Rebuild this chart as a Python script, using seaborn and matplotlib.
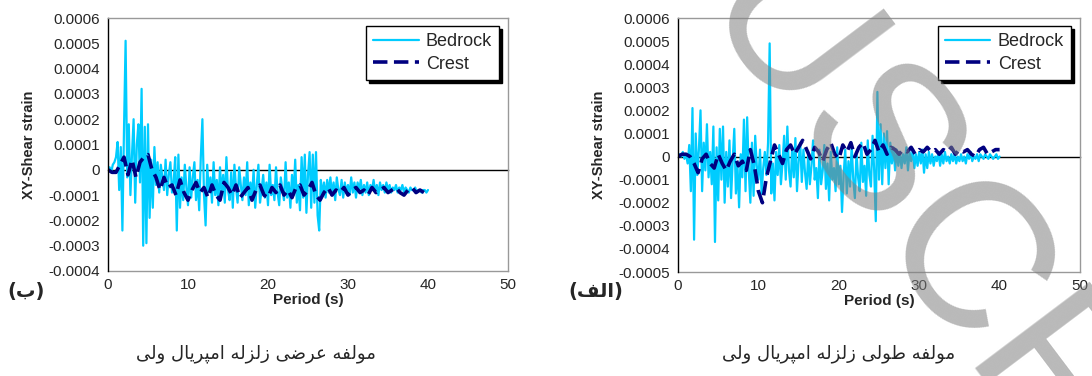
import numpy as np
import pandas as pd
import matplotlib
matplotlib.use('Agg')
import matplotlib.pyplot as plt
import seaborn as sns

# ---- data (strain values in units of 1e-4) ----
# transverse component (panel b), bedrock sampled every 0.2 s
bed_b = [0, 0.1, -0.1, 0.2, 0.3, 0.5,
         1.1, -0.8, 0.9, -2.4, 1.6,
         5.1, -0.3, 1.8, -1.0, 0.6,
         2.0, -1.3, 1.0, 1.8, -0.5,
         3.2, -3.0, 1.7, -2.9, 1.8,
         -1.9, 0.4, -1.5, 0.9, -0.6,
         0.3, -0.9, 0.2, -0.3, -0.8,
         0.4, -1.0, -0.2, 0.3, -0.9,
         -0.5, 0.5, -2.4, 0.6, -1.5,
         -0.3, -1.2, 0.2, -0.7, -1.4,
         0.1, -1.1, -0.3, 0.3, -1.2,
         -0.4, -1.6, 0.5, 2.0, -1.0,
         -2.2, 0.2, -0.9, -0.3, -1.3,
         0.3, -1.0, -0.4, -1.4, 0.1,
         -0.9, -0.2, -1.3, 0.5, -0.8,
         -1.2, -0.1, -1.5, 0.2, -0.7,
         -1.3, 0.1, -0.6, -1.2, -0.3,
         -1.0, 0.3, -1.4, -0.5, -1.1,
         0.0, -1.5, -0.6, 0.2, -1.3,
         -0.8, -0.2, -1.1, -0.5, -1.4,
         0.2, -1.0, -0.6, -1.2, 0.1,
         -0.9, -1.4, -0.3, -0.8, -1.2,
         0.3, -1.1, -0.5, -1.5, -0.2,
         -1.0, 0.4, -1.3, -0.6, -1.6,
         0.5, -1.1, 0.6, -1.7, -0.2,
         0.7, -1.5, 0.6, -1.3, 0.7,
         -1.8, -2.4, -0.4, -1.0, -0.5,
         -1.1, -0.4, -0.9, -0.3, -1.0,
         -0.5, -1.2, -0.3, -0.8, -1.0,
         -0.4, -1.1, -0.5, -0.9, -0.6,
         -1.0, -0.3, -0.9, -0.5, -1.1,
         -0.5, -0.8, -0.4, -1.0, -0.6,
         -0.9, -0.5, -1.0, -0.6, -0.8,
         -0.4, -0.9, -0.6, -1.0, -0.5,
         -0.8, -0.6, -0.9, -0.5, -0.8,
         -0.6, -0.9, -0.7, -0.8, -0.6,
         -0.9, -0.7, -0.8, -0.6, -0.9,
         -0.7, -0.8, -0.9, -0.7, -0.8,
         -0.8, -0.7, -0.9, -0.8, -0.8,
         -0.9, -0.8, -0.8, -0.9, -0.8]
# crest sampled every 0.5 s
crest_b = [0, -0.1, -0.1, 0.2, 0.5, -0.2, 0.4, -0.3, 0.3, 0.5,
           0.6, 0.0, -0.3, -0.8, -0.3, -0.7, -0.6, -1.0, -0.4, -0.9,
           -1.2, -0.8, -0.5, -0.9, -0.7, -1.1, -0.6, -1.0, -1.2, -0.5,
           -0.7, -1.0, -0.6, -1.1, -0.9, -0.7, -1.2, -0.8, -0.6, -1.0,
           -1.1, -0.7, -0.9, -0.6, -1.0, -0.8, -1.1, -0.7, -0.6, -1.0,
           -0.8, -0.5, -1.0, -1.2, -0.9, -0.7, -1.0, -0.8, -0.9, -0.7,
           -1.0, -0.8, -0.7, -0.9, -0.8, -1.0, -0.7, -0.9, -0.8, -0.7,
           -0.9, -0.8, -0.7, -0.9, -1.0, -0.8, -0.7, -0.9, -0.8, -0.9, -0.8]

# longitudinal component (panel alef)
bed_a = [0, 0.1, 0.0, 0.2, -0.1, 0.1,
         -0.3, 0.5, -1.5, 2.1, -3.6,
         1.0, -0.8, 0.3, 2.0, -1.5,
         0.6, -0.6, 1.4, -0.9, 0.2,
         -1.2, 1.3, -3.7, 0.4, -1.9,
         1.2, -1.0, 1.3, -2.0, 0.2,
         -1.3, 0.7, -1.8, -0.2, 1.2,
         -1.6, -0.4, -2.2, 0.1, -0.9,
         1.6, -1.5, 1.7, -0.6, -2.0,
         0.6, -1.7, 0.9, -0.4, -1.0,
         0.3, -1.6, -0.5, 0.2, -0.8,
         0.6, 4.9, -1.6, -0.3, -1.9,
         0.2, -0.8, 0.5, -1.2, -0.3,
         0.9, -1.0, 1.3, -0.6, -1.3,
         0.4, -0.9, 0.8, -1.5, -0.2,
         0.6, -1.1, 0.3, -0.7, -1.4,
         0.2, -1.2, -0.4, 0.7, -1.0,
         -0.5, -1.8, 0.3, -1.2, -0.6,
         0.5, -1.4, -0.3, -1.9, 0.2,
         -1.0, -0.5, -1.5, 0.4, -1.2,
         -0.4, -2.4, -0.8, 0.3, -1.6,
         -0.2, -1.3, 0.5, -1.0, -1.8,
         0.2, -0.9, -1.5, 0.6, -1.1,
         -0.4, -1.7, 0.7, -0.8, -1.3,
         0.9, -0.6, -2.8, 2.8, -1.0,
         1.4, -1.2, 1.0, -0.5, 1.1,
         -1.2, 0.6, -0.3, 0.4, -0.6,
         0.3, -0.4, 0.2, -0.5, 0.1,
         -0.3, 0.4, -0.6, 0.2, -0.2,
         0.3, -0.5, 0.1, -0.4, 0.2,
         -0.3, 0.3, -0.7, 0.1, -0.5,
         0.2, -0.3, 0.1, -0.4, 0.0,
         -0.2, 0.2, -0.4, 0.1, -0.3,
         0.2, -0.2, 0.0, -0.3, 0.1,
         -0.2, 0.1, -0.3, 0.0, -0.2,
         0.1, -0.2, 0.0, -0.3, 0.1,
         -0.1, 0.2, -0.2, 0.0, -0.1,
         0.1, -0.2, 0.1, 0.0, -0.1,
         0.1, 0.0, -0.1, 0.1, 0.0,
         -0.1, 0.0, 0.1, -0.1, 0.0]
crest_a = [0, 0.1, 0.1, 0.0, -0.3, -0.7, -0.1, 0.1, -0.3, -0.5,
           0.1, -0.3, -0.6, -0.2, 0.1, -0.4, -0.2, -0.6, 0.3, -0.4,
           -1.5, -2.0, -0.9, -0.2, 0.5, 0.1, -0.3, 0.3, 0.5, 0.1,
           0.4, 0.7, 0.3, -0.1, 0.4, 0.2, -0.2, 0.3, 0.6, 0.1,
           -0.1, 0.5, 0.2, 0.6, 0.0, 0.4, 0.6, 0.1, 0.3, 0.7,
           0.2, 0.5, 0.1, 0.4, 0.3, 0.1, 0.3, 0.2, 0.4, 0.1,
           0.3, 0.2, 0.4, 0.2, 0.3, 0.1, 0.3, 0.2, 0.4, 0.1,
           0.3, 0.2, 0.3, 0.1, 0.0, 0.3, 0.4, 0.1, 0.2, 0.3, 0.3]

xticks = [0, 10, 20, 30, 40, 50]
yticks_b = [-0.0004, -0.0003, -0.0002, -0.0001, 0, 0.0001, 0.0002, 0.0003, 0.0004, 0.0005, 0.0006]
ylabels_b = ['-0.0004', '-0.0003', '-0.0002', '-0.0001', '0', '0.0001', '0.0002',
             '0.0003', '0.0004', '0.0005', '0.0006']
yticks_a = [-0.0005] + yticks_b
ylabels_a = ['-0.0005'] + ylabels_b

caption_b = 'مولفه عرضی زلزله امپریال ولی'
caption_a = 'مولفه طولی زلزله امپریال ولی'
tag_b = '(ب)'
tag_a = '(الف)'

# ---- simple arabic shaping (matplotlib has no shaping / bidi) ----
FORMS = {
    'ا': ('\uFE8D', '\uFE8E', None, None),
    'ب': ('\uFE8F', '\uFE90', '\uFE91', '\uFE92'),
    'پ': ('\uFB56', '\uFB57', '\uFB58', '\uFB59'),
    'ر': ('\uFEAD', '\uFEAE', None, None),
    'ز': ('\uFEAF', '\uFEB0', None, None),
    'ض': ('\uFEBD', '\uFEBE', '\uFEBF', '\uFEC0'),
    'ط': ('\uFEC1', '\uFEC2', '\uFEC3', '\uFEC4'),
    'ع': ('\uFEC9', '\uFECA', '\uFECB', '\uFECC'),
    'ف': ('\uFED1', '\uFED2', '\uFED3', '\uFED4'),
    'ل': ('\uFEDD', '\uFEDE', '\uFEDF', '\uFEE0'),
    'م': ('\uFEE1', '\uFEE2', '\uFEE3', '\uFEE4'),
    'ه': ('\uFEE9', '\uFEEA', '\uFEEB', '\uFEEC'),
    'و': ('\uFEED', '\uFEEE', None, None),
    'ی': ('\uFBFC', '\uFBFD', '\uFBFE', '\uFBFF'),
}


def shape(text):
    out = []
    for i, ch in enumerate(text):
        if ch not in FORMS:
            out.append(ch)
            continue
        prev = text[i - 1] if i > 0 else ''
        nxt = text[i + 1] if i + 1 < len(text) else ''
        j_prev = prev in FORMS and FORMS[prev][2] is not None
        j_next = nxt in FORMS and FORMS[ch][2] is not None
        iso, fin, ini, med = FORMS[ch]
        if j_prev and j_next:
            out.append(med)
        elif j_prev:
            out.append(fin)
        elif j_next:
            out.append(ini)
        else:
            out.append(iso)
    vis = ''.join(reversed(out))
    return vis.translate(str.maketrans('()', ')('))


sns.set_style('white')
plt.rcParams['font.family'] = ['Liberation Sans', 'DejaVu Sans']

CYAN = '#00CCFF'
NAVY = '#000080'
GREY = '#999999'

fig = plt.figure(figsize=(10.92, 3.76), dpi=100)


def panel(rect, bed, crest, yticks, ylabels, ylim):
    ax = fig.add_axes(rect)
    df_bed = pd.DataFrame({'t': np.linspace(0, 40, len(bed)), 'v': np.array(bed) * 1e-4})
    df_crest = pd.DataFrame({'t': np.linspace(0, 40, len(crest)), 'v': np.array(crest) * 1e-4})
    sns.lineplot(data=df_bed, x='t', y='v', ax=ax, color=CYAN, lw=1.6, label='Bedrock')
    sns.lineplot(data=df_crest, x='t', y='v', ax=ax, color=NAVY, lw=2.6,
                 linestyle=(0, (4, 1.8)), label='Crest')
    ax.set_xlim(0, 50)
    ax.set_ylim(*ylim)

    # frame: grey box, black y-axis, black x-axis crossing at zero
    for s in ['top', 'right']:
        ax.spines[s].set_color(GREY)
        ax.spines[s].set_linewidth(1)
    ax.spines['left'].set_color('black')
    ax.spines['left'].set_linewidth(1)
    ax.spines['bottom'].set_position(('data', 0))
    ax.spines['bottom'].set_color('black')
    ax.spines['bottom'].set_linewidth(1)
    ax.spines['bottom'].set_zorder(1)

    ax.set_xticks(xticks)
    ax.tick_params(axis='x', direction='out', length=4, width=1, color='black',
                   labelbottom=False)
    ax.set_yticks(yticks)
    ax.set_yticklabels(ylabels)
    ax.tick_params(axis='y', direction='out', length=4, width=1, color='black',
                   labelsize=11, pad=2)
    ax.set_xlabel('')
    ax.set_ylabel('XY-Shear strain', fontsize=10.5, fontweight='bold', labelpad=9)

    sec = ax.secondary_xaxis('bottom')
    sec.set_xticks(xticks)
    sec.tick_params(length=0, labelsize=11, pad=5)
    sec.spines['bottom'].set_color(GREY)
    sec.spines['bottom'].set_linewidth(1)
    sec.set_xlabel('Period (s)', fontsize=11, fontweight='bold', labelpad=1)

    leg = ax.legend(loc='upper right', bbox_to_anchor=(0.978, 0.968), borderaxespad=0,
                    fontsize=13, fancybox=False, shadow={'color': 'black', 'alpha': 1},
                    handlelength=2.5, handletextpad=0.4, borderpad=0.4,
                    labelspacing=0.3, edgecolor='black', framealpha=1)
    leg.get_frame().set_linewidth(1)
    return ax


ax_b = panel([108 / 1092, 1 - 271 / 376, 400 / 1092, 253 / 376], bed_b, crest_b,
             yticks_b, ylabels_b, (-0.0004, 0.0006))
ax_a = panel([678 / 1092, 1 - 272 / 376, 402 / 1092, 254 / 376], bed_a, crest_a,
             yticks_a, ylabels_a, (-0.0005, 0.0006))

# panel tags and captions
fig.text(26 / 1092, 1 - 291 / 376, shape(tag_b), ha='center', va='center',
         fontsize=14, fontweight='bold', family=['DejaVu Sans'])
fig.text(596 / 1092, 1 - 291 / 376, shape(tag_a), ha='center', va='center',
         fontsize=14, fontweight='bold', family=['DejaVu Sans'])
fig.text(256 / 1092, 1 - 354 / 376, shape(caption_b), ha='center', va='center',
         fontsize=13, family=['DejaVu Sans'])
fig.text(839 / 1092, 1 - 354 / 376, shape(caption_a), ha='center', va='center',
         fontsize=13, family=['DejaVu Sans'])

# watermark
fig.text(872 / 1092, 1 - 165 / 376, 'MANUSCRIPT', ha='center', va='center',
         rotation=-53, rotation_mode='anchor', fontsize=150, color='gray', alpha=0.55,
         family=['Liberation Sans'], zorder=10)

fig.savefig('out.png', dpi=100)
